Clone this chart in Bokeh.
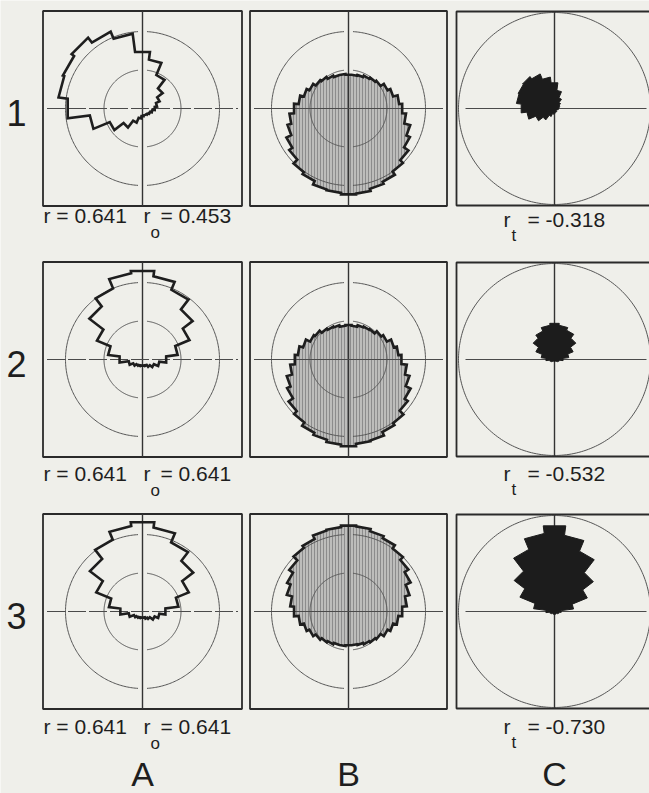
import numpy as np
from bokeh.plotting import figure
from bokeh.models import Range1d
from bokeh.core.properties import value
from bokeh.embed import file_html
from bokeh.resources import INLINE

# ---- data: binned polar distributions (radius per angular bin, counter-clockwise from 0 deg)
# column A: 24 bins of 15 deg (outline only)
A1_R = [0.16, 0.19, 0.24, 0.33, 0.47, 0.64, 0.74, 0.98, 1.08, 1.16, 1.12, 1.10,
        0.98, 0.69, 0.46, 0.31, 0.20, 0.13, 0.10, 0.09, 0.09, 0.10, 0.11, 0.13]
A2_R = [0.31, 0.46, 0.66, 0.82, 0.98, 1.09, 1.16, 1.13, 1.00, 0.87, 0.64, 0.45,
        0.30, 0.18, 0.13, 0.10, 0.09, 0.08, 0.08, 0.08, 0.09, 0.12, 0.16, 0.22]
A3_R = [0.30, 0.47, 0.65, 0.83, 0.97, 1.10, 1.17, 1.12, 1.01, 0.86, 0.65, 0.44,
        0.29, 0.18, 0.12, 0.10, 0.09, 0.08, 0.08, 0.08, 0.10, 0.12, 0.17, 0.22]
# column B: 36 bins of 10 deg (shaded)
B1_R = [0.70, 0.66, 0.60, 0.56, 0.51, 0.49, 0.47, 0.45, 0.44, 0.44, 0.45, 0.45,
        0.47, 0.50, 0.52, 0.56, 0.60, 0.65, 0.71, 0.77, 0.82, 0.89, 0.94, 1.01,
        1.04, 1.09, 1.10, 1.12, 1.11, 1.08, 1.05, 1.00, 0.95, 0.88, 0.83, 0.75]
B2_R = [0.69, 0.65, 0.61, 0.55, 0.52, 0.48, 0.47, 0.46, 0.44, 0.45, 0.44, 0.46,
        0.47, 0.49, 0.53, 0.55, 0.61, 0.66, 0.70, 0.76, 0.83, 0.88, 0.95, 1.00,
        1.05, 1.08, 1.11, 1.13, 1.10, 1.09, 1.04, 1.01, 0.94, 0.89, 0.82, 0.76]
B3_R = [0.70, 0.76, 0.82, 0.89, 0.95, 1.00, 1.05, 1.08, 1.11, 1.12, 1.10, 1.09,
        1.04, 1.01, 0.94, 0.88, 0.83, 0.76, 0.71, 0.65, 0.60, 0.56, 0.52, 0.49,
        0.47, 0.45, 0.45, 0.44, 0.44, 0.45, 0.47, 0.49, 0.51, 0.56, 0.60, 0.65]
# column C: 24 bins of 15 deg (solid)
C1_R = [0.04, 0.05, 0.06, 0.08, 0.12, 0.19, 0.27, 0.33, 0.39, 0.42, 0.41, 0.40,
        0.35, 0.29, 0.21, 0.15, 0.09, 0.06, 0.05, 0.04, 0.04, 0.03, 0.03, 0.04]
C2_R = [0.09, 0.15, 0.21, 0.28, 0.33, 0.36, 0.38, 0.36, 0.32, 0.28, 0.21, 0.14,
        0.09, 0.05, 0.04, 0.03, 0.02, 0.02, 0.02, 0.02, 0.02, 0.03, 0.04, 0.05]
C3_R = [0.07, 0.20, 0.37, 0.51, 0.68, 0.80, 0.90, 0.82, 0.70, 0.53, 0.39, 0.22,
        0.09, 0.05, 0.04, 0.03, 0.03, 0.03, 0.03, 0.03, 0.03, 0.03, 0.04, 0.05]

ROW_LABELS = ["1", "2", "3"]
COL_LABELS = ["A", "B", "C"]
R_VALUES = ["0.641", "0.641", "0.641"]
RO_VALUES = ["0.453", "0.641", "0.641"]
RT_VALUES = ["-0.318", "-0.532", "-0.730"]

# ---- layout (page pixels, y downward)
W, H = 649, 793
BG = "#efefea"
INK = "#1e1e1e"
COL_X = [142, 348, 554]
ROW_Y = [108, 359, 611]
LABEL_MID = [215, 473, 726]     # vertical centre of the correlation labels
HALF_W, HALF_H = 99.5, 97.5
SCALE_AB = 77.0   # pixels per unit radius, columns A and B
SCALE_C = 96.0    # pixels per unit radius, column C
FONT = value("Liberation Sans")

p = figure(width=W, height=H, x_range=Range1d(0, W), y_range=Range1d(H, 0),
           output_backend="svg", toolbar_location=None, min_border=0,
           x_axis_location=None, y_axis_location=None)
p.grid.visible = False
p.outline_line_color = None
p.background_fill_color = BG
p.border_fill_color = BG


def step_outline(radii, cx, cy, scale):
    n = len(radii)
    w = 360.0 / n
    xs, ys = [], []
    for k, r in enumerate(radii):
        c = k * w
        for a in (c - w / 2, c + w / 2):
            t = np.radians(a)
            xs.append(cx + r * scale * np.cos(t))
            ys.append(cy - r * scale * np.sin(t))
    return xs, ys


def ring(cx, cy, r_px, gap_px):
    if gap_px <= 0:
        t = np.radians(np.linspace(0, 360, 240))
        return [list(cx + r_px * np.cos(t))], [list(cy - r_px * np.sin(t))]
    g = np.degrees(gap_px / 2.0 / r_px)
    xs, ys = [], []
    for a0, a1 in ((90 + g, 270 - g), (-90 + g, 90 - g)):
        t = np.radians(np.linspace(a0, a1, 160))
        xs.append(list(cx + r_px * np.cos(t)))
        ys.append(list(cy - r_px * np.sin(t)))
    return xs, ys


def frame(cx, cy, hw, hh):
    p.quad(left=[cx - hw], right=[cx + hw], top=[cy - hh], bottom=[cy + hh],
           fill_alpha=0, line_color="#2a2a2a", line_width=1.8)


def axes(cx, cy, hw, hh, dash="18 3"):
    p.segment(x0=[cx], y0=[cy - hh], x1=[cx], y1=[cy + hh],
              line_color="#333333", line_width=1.4)
    p.segment(x0=[cx - hw + 4], y0=[cy], x1=[cx + hw - 4], y1=[cy],
              line_color="#4a4a4a", line_width=1.0, line_dash=dash)


def rings_ab(cx, cy):
    for rr in (0.5, 1.0):
        xs, ys = ring(cx, cy, rr * SCALE_AB, 9)
        p.multi_line(xs, ys, line_color="#555555", line_width=1.0)


def label(x, y, s, size):
    p.text(x=[x], y=[y], text=[s], text_font=FONT, text_font_size=value(size),
           text_baseline="middle", text_align="left", text_color=INK)


A_SETS = [A1_R, A2_R, A3_R]
B_SETS = [B1_R, B2_R, B3_R]
C_SETS = [C1_R, C2_R, C3_R]

for i, cy in enumerate(ROW_Y):
    # column A: outline rose
    cx = COL_X[0]
    frame(cx, cy, HALF_W, HALF_H)
    axes(cx, cy, HALF_W, HALF_H)
    rings_ab(cx, cy)
    xs, ys = step_outline(A_SETS[i], cx, cy, SCALE_AB)
    p.patch(xs, ys, fill_alpha=0, line_color=INK, line_width=2.6, line_join="miter")

    # column B: shaded rose
    cx = COL_X[1]
    frame(cx, cy, HALF_W - 1, HALF_H)
    xs, ys = step_outline(B_SETS[i], cx, cy, SCALE_AB)
    p.patch(xs, ys, fill_color="#bdbdbb", line_alpha=0,
            hatch_pattern="|", hatch_color="#8c8c8c", hatch_scale=3, hatch_weight=1)
    rings_ab(cx, cy)
    axes(cx, cy, HALF_W - 1, HALF_H, dash="solid")
    p.patch(xs, ys, fill_alpha=0, line_color=INK, line_width=2.6, line_join="miter")

    # column C: solid rose inside unit circle
    cx = COL_X[2]
    frame(cx, cy, 98, 97)
    rx, ry = ring(cx, cy, SCALE_C, 0)
    p.multi_line(rx, ry, line_color="#555555", line_width=1.0)
    p.segment(x0=[cx], y0=[cy - 97], x1=[cx], y1=[cy + 97],
              line_color="#333333", line_width=1.4)
    p.segment(x0=[cx - 89], y0=[cy], x1=[cx + 92], y1=[cy],
              line_color="#4a4a4a", line_width=1.0)
    xs, ys = step_outline(C_SETS[i], cx, cy, SCALE_C)
    p.patch(xs, ys, fill_color="#1c1c1c", line_color="#1c1c1c", line_width=1.0)

    # row number
    p.text(x=[16], y=[cy + 4], text=[ROW_LABELS[i]], text_font=FONT,
           text_font_size=value("36px"), text_align="center", text_baseline="middle",
           text_color=INK)

    # correlation labels under A
    mid = LABEL_MID[i]
    label(43, mid, "r = " + R_VALUES[i], "21px")
    label(143, mid, "r", "21px")
    label(150, mid + 17, "o", "17px")
    label(160, mid, "= " + RO_VALUES[i], "21px")

    # label under C
    cmid = mid + (4 if i == 0 else 0)
    label(503, cmid, "r", "21px")
    label(511, cmid + 16, "t", "17px")
    label(527, cmid, "= " + RT_VALUES[i], "21px")

# column letters
p.text(x=COL_X, y=[773, 773, 773], text=COL_LABELS, text_font=FONT,
       text_font_size=value("34px"), text_align="center", text_baseline="middle",
       text_color=INK)

open("out.html", "w").write(file_html(p, INLINE))
